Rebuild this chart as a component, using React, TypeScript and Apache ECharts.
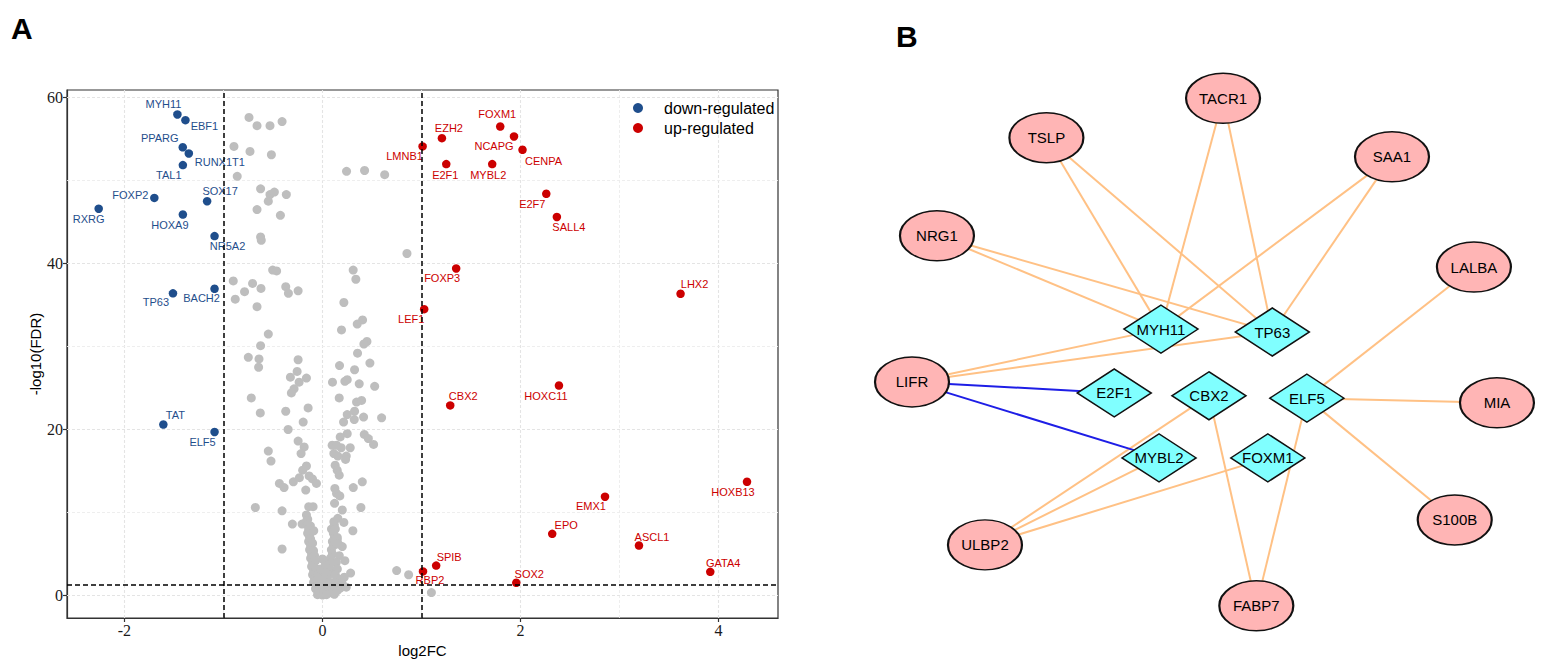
import React, { useEffect, useRef } from 'react';
import * as echarts from 'echarts';

// ---------- Panel A data ----------
const downGenes = ['MYH11', 'EBF1', 'PPARG', 'RUNX1T1', 'TAL1', 'FOXP2', 'RXRG', 'HOXA9', 'SOX17', 'NR5A2', 'BACH2', 'TP63', 'TAT', 'ELF5'];
const downLog2FC = [-1.465, -1.384, -1.411, -1.35, -1.41, -1.698, -2.26, -1.41, -1.165, -1.09, -1.09, -1.51, -1.607, -1.09];
const downNegLogFDR = [57.95, 57.27, 54.0, 53.25, 51.85, 47.9, 46.6, 45.9, 47.5, 43.3, 36.95, 36.4, 20.6, 19.7];

const upGenes = ['FOXM1', 'NCAPG', 'CENPA', 'EZH2', 'LMNB1', 'E2F1', 'MYBL2', 'E2F7', 'SALL4', 'FOXP3', 'LHX2', 'LEF1', 'HOXC11', 'CBX2', 'HOXB13', 'EMX1', 'EPO', 'ASCL1', 'GATA4', 'SPIB', 'RBP2', 'SOX2'];
const upLog2FC = [1.795, 1.934, 2.02, 1.206, 1.011, 1.25, 1.714, 2.26, 2.367, 1.35, 3.616, 1.027, 2.388, 1.29, 4.287, 2.853, 2.32, 3.196, 3.916, 1.148, 1.015, 1.957];
const upNegLogFDR = [56.5, 55.3, 53.7, 55.1, 54.1, 51.97, 51.97, 48.4, 45.6, 39.4, 36.35, 34.5, 25.3, 22.9, 13.7, 11.9, 7.43, 6.02, 2.85, 3.6, 2.9, 1.53];

const nsPoints: number[][] = [
  [-0.742, 57.6], [-0.661, 56.6], [-0.53, 56.6], [-0.408, 57.1], [-0.894, 54.1], [-0.732, 53.5], [-0.516, 53.1], [-0.861, 50.5],
  [0.243, 51.1], [0.425, 51.2], [0.628, 50.7],
  [-0.625, 49.0], [-0.53, 48.3], [-0.486, 48.6], [-0.365, 48.3], [-0.547, 47.5], [-0.661, 46.5], [-0.425, 45.8], [-0.625, 43.2], [-0.618, 42.8],
  [-0.503, 39.2], [-0.463, 39.1], [0.31, 39.2], [0.337, 38.1], [0.853, 41.2],
  [-0.901, 37.9], [-0.706, 37.6], [-0.787, 36.6], [-0.621, 37.0], [-0.371, 37.2], [-0.344, 36.4], [-0.246, 36.7], [-0.881, 35.7], [-0.661, 34.8],
  [0.216, 35.3], [0.405, 33.2], [0.351, 32.7], [0.192, 32.0], [-0.547, 31.5], [0.449, 30.6], [0.418, 30.3], [-0.625, 30.1],
  [-0.749, 28.7], [-0.641, 28.5], [-0.246, 28.4], [0.354, 29.2], [-0.645, 27.5], [0.172, 27.7], [0.479, 28.0], [0.324, 27.2],
  [-0.256, 27.0], [-0.324, 26.3], [-0.162, 26.2], [0.25, 26.0], [0.226, 25.8], [-0.236, 25.7], [0.101, 25.7], [0.371, 25.5], [0.527, 25.2],
  [-0.287, 24.9], [-0.314, 24.4], [-0.719, 23.8], [0.169, 23.8], [0.344, 23.3], [0.395, 23.5], [-0.145, 22.6], [-0.371, 22.2], [-0.628, 22.0],
  [0.25, 21.8], [0.324, 22.2], [0.213, 20.9], [0.321, 21.2], [0.415, 21.5], [0.597, 21.4], [-0.195, 20.9], [-0.347, 20.0],
  [0.25, 19.5], [0.179, 19.1], [0.422, 19.4], [0.463, 18.9], [0.516, 18.2], [-0.246, 18.6], [-0.185, 17.9], [0.098, 18.1], [0.142, 18.1], [0.189, 17.8], [0.28, 17.8],
  [-0.547, 17.4], [-0.216, 17.1], [0.115, 17.1], [0.155, 16.8], [0.24, 16.8], [-0.52, 16.2], [0.233, 16.4], [0.128, 15.7], [-0.162, 15.6], [-0.2, 15.1], [0.149, 15.1],
  [0.169, 14.5], [-0.135, 14.4], [-0.233, 14.2], [-0.101, 14.05], [-0.061, 13.5], [-0.435, 13.5], [-0.388, 13.0], [-0.294, 13.7], [0.402, 13.7], [0.311, 13.0], [0.125, 12.9], [-0.169, 12.7], [0.142, 12.3], [0.175, 12.0],
  [-0.678, 10.6], [-0.408, 10.2], [-0.139, 10.7], [-0.095, 10.7], [0.122, 11.1], [0.2, 10.3], [0.388, 10.6], [-0.162, 9.7], [-0.149, 9.2], [-0.206, 8.6], [-0.304, 8.6], [-0.122, 8.4], [0.115, 8.9], [0.155, 9.3], [0.216, 8.8], [0.091, 8.0], [0.307, 7.8], [-0.088, 7.8],
  [-0.408, 5.6], [0.149, 6.7], [0.2, 5.9], [0.226, 4.2], [0.284, 2.7], [0.749, 3.0], [0.87, 2.5], [1.10, 0.35],
  [-0.16, 9.0], [-0.15, 8.5], [-0.14, 8.0], [-0.15, 7.5], [-0.13, 7.0], [-0.14, 6.5], [-0.12, 6.0], [-0.13, 5.5], [-0.11, 5.0], [-0.12, 4.5],
  [-0.10, 4.0], [-0.11, 3.5], [-0.09, 3.0], [-0.10, 2.5], [-0.08, 2.0], [-0.09, 1.6], [-0.06, 1.2], [-0.07, 0.8], [-0.04, 0.5], [-0.02, 0.3],
  [-0.13, 7.2], [-0.12, 6.8], [-0.10, 6.3], [-0.09, 5.4], [-0.08, 4.8], [-0.07, 4.2], [-0.07, 3.3], [-0.05, 2.6], [-0.05, 1.9], [-0.03, 1.4],
  [0.12, 8.5], [0.13, 8.0], [0.11, 7.5], [0.12, 7.0], [0.10, 6.5], [0.11, 6.0], [0.09, 5.5], [0.10, 5.0], [0.08, 4.5], [0.09, 4.0],
  [0.07, 3.5], [0.08, 3.0], [0.06, 2.5], [0.05, 2.0], [0.04, 1.5], [0.03, 1.0], [0.02, 0.6], [0.15, 7.0], [0.16, 6.2], [0.17, 4.8],
  [0.14, 4.0], [0.15, 3.2], [0.13, 2.5], [0.16, 2.0], [0.12, 1.6], [0.10, 1.2], [0.08, 0.9], [0.06, 0.4],
  [0.0, 2.2], [0.02, 2.8], [-0.02, 3.2], [0.03, 3.8], [0.0, 4.4], [0.05, 1.3], [0.1, 0.3], [0.18, 0.9], [0.2, 1.4], [0.22, 2.2],
  [0.24, 1.0], [-0.05, 0.1], [0.0, 0.05], [0.04, 0.1], [0.12, 0.15], [0.15, 0.6],
];

const xTicks = [-2, 0, 2, 4];
const xMinorGrid = [-1, 1, 3];
const yTicks = [0, 20, 40, 60];
const yMinorGrid = [10, 30, 50];
const fcCutoffs = [-1, 1];
const fdrCutoff = 1.301;

// label placement (layout, pixels relative to the point)
const labelOffsets: Record<string, number[]> = {
  MYH11: [-14, -10], EBF1: [19, 6], PPARG: [-23, -9], RUNX1T1: [31, 9], TAL1: [-14, 10], FOXP2: [-24, -3],
  RXRG: [-10, 10], HOXA9: [-13, 10], SOX17: [13, -10], NR5A2: [13, 10], BACH2: [-13, 9], TP63: [-17, 9],
  TAT: [12, -10], ELF5: [-12, 10],
  FOXM1: [-3, -13], NCAPG: [-20, 10], CENPA: [21, 11], EZH2: [7, -10], LMNB1: [-18, 10], E2F1: [-1, 11],
  MYBL2: [-4, 11], E2F7: [-14, 10], SALL4: [12, 10], FOXP3: [-14, 10], LHX2: [14, -10], LEF1: [-13, 10],
  CBX2: [13, -9], HOXC11: [-13, 10], HOXB13: [-14, 10], EMX1: [-14, 9], EPO: [14, -9], ASCL1: [13, -9],
  GATA4: [13, -9], SPIB: [13, -9], RBP2: [7, 9], SOX2: [13, -9],
};

// ---------- Panel B data ----------
const targetNodes = ['TACR1', 'TSLP', 'SAA1', 'NRG1', 'LALBA', 'LIFR', 'MIA', 'S100B', 'ULBP2', 'FABP7'];
const targetX = [53.6, 26.0, 80.0, 8.9, 92.8, 5.0, 96.4, 89.8, 16.4, 58.8];
const targetY = [6.6, 13.4, 16.7, 30.3, 35.7, 55.5, 59.1, 79.3, 83.6, 94.1];
const tfNodes = ['MYH11', 'TP63', 'E2F1', 'CBX2', 'ELF5', 'MYBL2', 'FOXM1'];
const tfX = [43.9, 61.3, 36.6, 51.4, 66.7, 43.6, 60.6];
const tfY = [46.4, 46.9, 57.4, 57.9, 58.3, 68.6, 68.6];
const positiveEdges = [
  ['TSLP', 'MYH11'], ['TSLP', 'TP63'], ['TACR1', 'MYH11'], ['TACR1', 'TP63'], ['SAA1', 'MYH11'], ['SAA1', 'TP63'],
  ['NRG1', 'MYH11'], ['NRG1', 'TP63'], ['LIFR', 'MYH11'], ['LIFR', 'TP63'], ['LALBA', 'ELF5'], ['MIA', 'ELF5'],
  ['S100B', 'ELF5'], ['FABP7', 'ELF5'], ['FABP7', 'CBX2'], ['ULBP2', 'CBX2'], ['ULBP2', 'MYBL2'], ['ULBP2', 'FOXM1'],
];
const negativeEdges = [['LIFR', 'E2F1'], ['LIFR', 'MYBL2']];

const BLUE = '#1F4E8C';
const RED = '#CC0000';
const GRAY = '#BEBEBE';
const SANS = "'Liberation Sans', Arial, sans-serif";
const SERIF = "'Liberation Serif', 'Times New Roman', serif";
const ELLIPSE = 'path://M0 -1C0.5523 -1 1 -0.5523 1 0C1 0.5523 0.5523 1 0 1C-0.5523 1 -1 0.5523 -1 0C-1 -0.5523 -0.5523 -1 0 -1Z';

function buildOption() {
  const gridMajor = { color: '#E4E4E4', width: 1.1, type: [3, 2] };
  const gridMinor = { color: '#ECECEC', width: 0.9, type: [3, 2] };
  const gridLines = [
    ...xTicks.map((v) => ({ xAxis: v, lineStyle: gridMajor })),
    ...xMinorGrid.map((v) => ({ xAxis: v, lineStyle: gridMinor })),
    ...yTicks.map((v) => ({ yAxis: v, lineStyle: gridMajor })),
    ...yMinorGrid.map((v) => ({ yAxis: v, lineStyle: gridMinor })),
  ];

  const makeItems = (genes: string[], xs: number[], ys: number[]) =>
    genes.map((g, i) => ({
      name: g,
      value: [xs[i], ys[i]],
      label: { offset: labelOffsets[g] || [0, -10] },
    }));

  const graphNodes = [
    ...targetNodes.map((n, i) => ({
      name: n,
      value: [targetX[i], targetY[i]],
      symbol: ELLIPSE,
      symbolSize: [74, 50],
      itemStyle: { color: '#FFB5B5', borderColor: '#111', borderWidth: 1.8, opacity: 1 },
    })),
    ...tfNodes.map((n, i) => ({
      name: n,
      value: [tfX[i], tfY[i]],
      symbol: 'diamond',
      symbolSize: [74, 48],
      itemStyle: { color: '#80FFFF', borderColor: '#111', borderWidth: 1.6, opacity: 1 },
    })),
  ];
  const graphLinks = [
    ...positiveEdges.map(([s, t]) => ({ source: s, target: t, lineStyle: { color: '#FFC185', width: 2, opacity: 1 } })),
    ...negativeEdges.map(([s, t]) => ({ source: s, target: t, lineStyle: { color: '#1E1EE6', width: 2, opacity: 1 } })),
  ];

  const axisNameStyle = { fontFamily: SANS, fontSize: 15, color: '#000' };
  const tickLabelStyle = { fontFamily: SERIF, fontSize: 16, color: '#1a1a1a' };

  return {
    animation: false,
    backgroundColor: '#ffffff',
    grid: [
      { left: 67, top: 90, width: 711, height: 528, show: true, borderColor: '#333', borderWidth: 1.2, backgroundColor: '#fff', containLabel: false, outerBoundsMode: 'none' },
      { left: 880, top: 60, width: 640, height: 580, show: false, containLabel: false, outerBoundsMode: 'none' },
    ],
    xAxis: [
      {
        type: 'value', gridIndex: 0, min: -2.58, max: 4.6,
        name: 'log2FC', nameLocation: 'middle', nameGap: 21,
        nameTextStyle: axisNameStyle,
        axisLine: { show: true, onZero: false, lineStyle: { color: '#333', width: 1.2 } },
        axisTick: { show: true, length: 4, customValues: xTicks, lineStyle: { color: '#333', width: 1.2 } },
        axisLabel: { show: true, customValues: xTicks, margin: 4, ...tickLabelStyle },
        splitLine: { show: false },
        minorSplitLine: { show: false },
      },
      { type: 'value', gridIndex: 1, min: 0, max: 100, show: false },
    ],
    yAxis: [
      {
        type: 'value', gridIndex: 0, min: -2.71, max: 60.9,
        name: '-log10(FDR)', nameLocation: 'middle', nameGap: 23,
        nameTextStyle: axisNameStyle,
        axisLine: { show: true, onZero: false, lineStyle: { color: '#333', width: 1.2 } },
        axisTick: { show: true, length: 4, customValues: yTicks, lineStyle: { color: '#333', width: 1.2 } },
        axisLabel: { show: true, customValues: yTicks, margin: 4, ...tickLabelStyle },
        splitLine: { show: false },
        minorSplitLine: { show: false },
      },
      { type: 'value', gridIndex: 1, min: 0, max: 100, inverse: true, show: false },
    ],
    legend: {
      show: true,
      data: ['down-regulated', 'up-regulated'],
      orient: 'vertical',
      left: 628,
      top: 95,
      icon: 'circle',
      itemWidth: 10,
      itemHeight: 10,
      itemGap: 4,
      selectedMode: false,
      itemStyle: { opacity: 1 },
      textStyle: { fontFamily: SANS, fontSize: 16, color: '#000', lineHeight: 16, padding: [0, 0, 0, 16] },
    },
    graphic: [
      { type: 'text', left: 11, top: 13, style: { text: 'A', fontFamily: SANS, fontWeight: 'bold', fontSize: 30, fill: '#000' } },
      { type: 'text', left: 896, top: 21, style: { text: 'B', fontFamily: SANS, fontWeight: 'bold', fontSize: 30, fill: '#000' } },
    ],
    series: [
      {
        name: 'not significant',
        type: 'scatter',
        xAxisIndex: 0, yAxisIndex: 0,
        symbol: 'circle', symbolSize: 9,
        itemStyle: { color: GRAY, opacity: 1 },
        z: 2,
        silent: true,
        data: nsPoints,
        markLine: { silent: true, symbol: ['none', 'none'], z: 1, label: { show: false }, data: gridLines },
      },
      {
        name: 'down-regulated',
        type: 'scatter',
        xAxisIndex: 0, yAxisIndex: 0,
        symbol: 'circle', symbolSize: 8.5,
        itemStyle: { color: BLUE, opacity: 1 },
        z: 3,
        silent: true,
        label: { show: true, position: 'inside', formatter: '{b}', fontFamily: SANS, fontSize: 11, color: BLUE, opacity: 1 },
        data: makeItems(downGenes, downLog2FC, downNegLogFDR),
        markLine: {
          silent: true, symbol: ['none', 'none'], z: 4, label: { show: false },
          lineStyle: { color: '#000', width: 1.5, type: [5, 3], opacity: 1 },
          data: [...fcCutoffs.map((v) => ({ xAxis: v })), { yAxis: fdrCutoff }],
        },
      },
      {
        name: 'up-regulated',
        type: 'scatter',
        xAxisIndex: 0, yAxisIndex: 0,
        symbol: 'circle', symbolSize: 8.5,
        itemStyle: { color: RED, opacity: 1 },
        z: 3,
        silent: true,
        label: { show: true, position: 'inside', formatter: '{b}', fontFamily: SANS, fontSize: 11, color: RED, opacity: 1 },
        data: makeItems(upGenes, upLog2FC, upNegLogFDR),
      },
      {
        name: 'network',
        type: 'graph',
        coordinateSystem: 'cartesian2d',
        xAxisIndex: 1, yAxisIndex: 1,
        layout: 'none',
        roam: false,
        silent: true,
        z: 3,
        label: { show: true, position: 'inside', fontFamily: SANS, fontSize: 15, color: '#000' },
        emphasis: { disabled: true },
        edgeSymbol: ['none', 'none'],
        data: graphNodes,
        links: graphLinks,
      },
    ],
  };
}

export default function App() {
  const ref = useRef<HTMLDivElement>(null);
  useEffect(() => {
    if (!ref.current) return;
    const chart = echarts.init(ref.current, null, { renderer: 'svg' });
    chart.setOption(buildOption() as any);
    return () => chart.dispose();
  }, []);
  return <div ref={ref} style={{ position: 'absolute', left: 0, top: 0, width: 1546, height: 666 }} />;
}
